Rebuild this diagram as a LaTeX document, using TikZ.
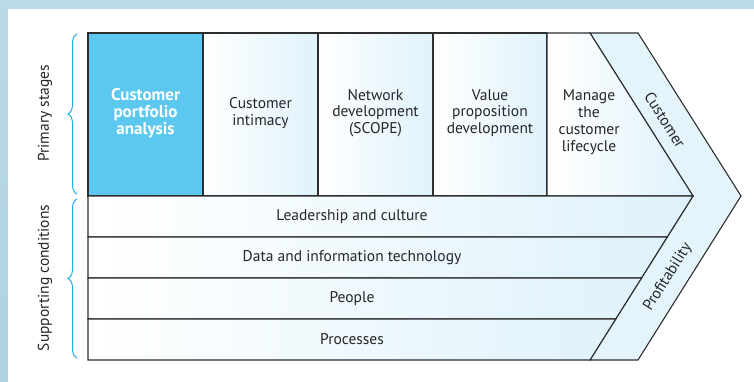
\documentclass[tikz,border=0pt]{standalone}
\usepackage{fontspec}
\setmainfont{PT Sans}
\usepackage{tikz}
\usetikzlibrary{
	positioning,
	decorations.pathreplacing,
	calc
}
\definecolor{framebg}{HTML}{AFD2E3}
\definecolor{paleblue}{HTML}{DFF2FB}
\definecolor{bandblue}{HTML}{E4F4FB}
\definecolor{deepblue}{HTML}{5CC8EF}
\definecolor{bracecyan}{HTML}{1FB0EA}
\definecolor{edge}{HTML}{2E2E2E}

\begin{document}
\begin{tikzpicture}[
    x=1pt, y=-1pt,
    cell/.style={draw=edge, line width=1.1pt, left color=white, right color=paleblue},
    band/.style={draw=edge, line width=1.1pt, fill=bandblue},
    label/.style={align=center, font=\fontsize{15.5}{16.8}\selectfont, text=black!85},
    sidelabel/.style={font=\fontsize{15.5}{17}\selectfont, text=black!85, rotate=90},
    grouping/.style={draw=bracecyan, line width=1pt, decorate, decoration={brace, amplitude=9pt}}
]
% frame
\useasboundingbox (0,0) rectangle (754,382);
\fill[top color=framebg!85, bottom color=framebg] (0,0) rectangle (754,382);
\fill[white] (8,9) rectangle (754,382);

% customer / profitability band
\draw[band] (590,33) -- (638,33) -- (741,196) -- (638,360) -- (590,360) -- (693,196) -- cycle;

% primary stages
\draw[draw=edge, line width=1.1pt, fill=deepblue] (88,33) rectangle (203,196);
\draw[cell] (203,33) rectangle (318,196);
\draw[cell] (318,33) rectangle (433,196);
\draw[cell] (433,33) rectangle (547,196);
\draw[cell] (547,33) -- (590,33) -- (693,196) -- (547,196) -- cycle;

% supporting conditions
\draw[cell] (88,196) -- (693,196) -- (667.2,237) -- (88,237) -- cycle;
\draw[cell] (88,237) -- (667.2,237) -- (641.5,278) -- (88,278) -- cycle;
\draw[cell] (88,278) -- (641.5,278) -- (615.7,319) -- (88,319) -- cycle;
\draw[cell] (88,319) -- (615.7,319) -- (590,360) -- (88,360) -- cycle;

% stage texts
\node[label, text=white, font=\fontsize{17}{16.8}\selectfont\bfseries] (portfolio) at (145.5,113) {Customer\\portfolio\\analysis};
\node[label] (intimacy) at (260.5,113) {Customer\\intimacy};
\node[label] (network) at (375.5,113) {Network\\development\\(SCOPE)};
\node[label] (proposition) at (490,113) {Value\\proposition\\development};
\node[label] (lifecycle) at (589,122) {Manage\\the\\customer\\lifecycle};

% condition texts
\node[label] (leadership) at (352,216.5) {Leadership and culture};
\node[label] (data) at (352,257.5) {Data and information technology};
\node[label] (people) at (352,298.5) {People};
\node[label] (processes) at (352,339.5) {Processes};

% band texts
\node[label, rotate=-57.7, inner sep=1pt] (customer) at (665,120) {Customer};
\node[label, rotate=57.7, inner sep=1pt] (profit) at (668,277) {Profitability};

% braces
\draw[grouping] (77,194) -- (77,34);
\draw[grouping] (77,358) -- (77,199);
\node[sidelabel] (primary) at (45,113.5) {Primary stages};
\node[sidelabel] (supporting) at (45,278) {Supporting conditions};
\end{tikzpicture}
\end{document}
